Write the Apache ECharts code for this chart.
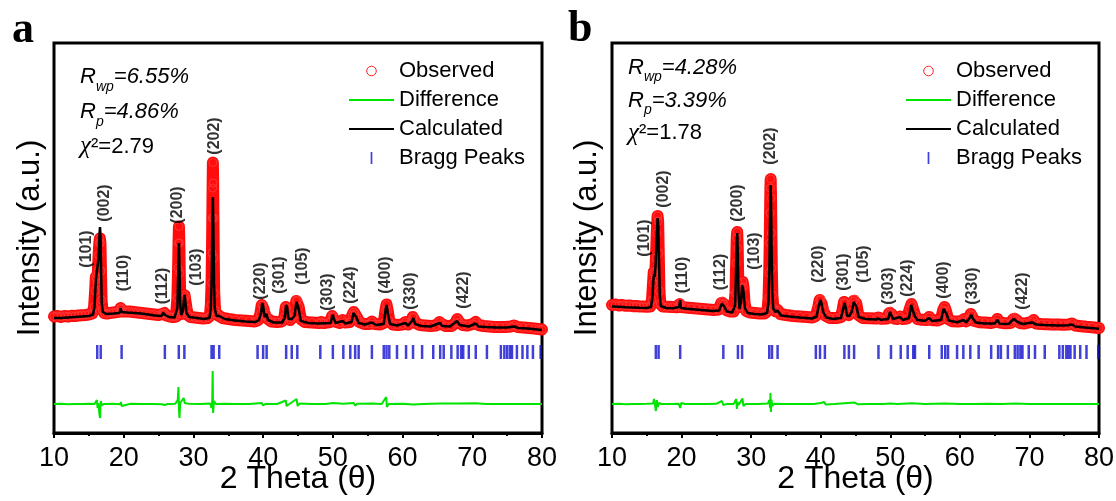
<!DOCTYPE html>
<html>
<head>
<meta charset="utf-8">
<script src="https://cdn.jsdelivr.net/npm/echarts@6/dist/echarts.min.js"></script>
<style>
html, body { margin: 0; padding: 0; background: #fff; }
#chart { width: 1116px; height: 501px; }
</style>
</head>
<body>
<div id="chart"></div>
<script>
// ---- Sample a: observed profile [2θ, intensity] ----
const obsA = [[10,1165],[10.5,1170],[11,1160],[11.5,1170],[12,1165],[12.5,1172],[13,1170],[13.5,1175],[14,1178],[14.5,1180],[15,1185],[15.5,1195],[15.75,1260],[15.9,1420],[16.0,1560],[16.1,1540],[16.2,1500],[16.3,1620],[16.4,1780],[16.5,1900],[16.58,1945],[16.66,1900],[16.74,1620],[16.82,1330],[16.95,1230],[17.2,1200],[17.6,1195],[18,1200],[18.5,1205],[19,1210],[19.4,1215],[19.55,1250],[19.65,1240],[19.8,1215],[20.2,1215],[20.8,1215],[21.4,1210],[22,1205],[22.6,1200],[23.2,1195],[23.8,1190],[24.4,1185],[25,1180],[25.5,1190],[25.7,1200],[25.85,1200],[26.1,1175],[26.6,1165],[27.1,1160],[27.5,1165],[27.7,1350],[27.8,1650],[27.86,1900],[27.92,2065],[27.98,1900],[28.04,1600],[28.12,1300],[28.25,1190],[28.45,1230],[28.6,1340],[28.72,1380],[28.85,1360],[29.0,1250],[29.2,1180],[29.6,1160],[30.2,1155],[30.8,1150],[31.4,1145],[32.0,1150],[32.35,1170],[32.5,1280],[32.6,1500],[32.66,1800],[32.71,2150],[32.75,2450],[32.79,2705],[32.83,2500],[32.87,2150],[32.92,1750],[32.98,1400],[33.1,1230],[33.3,1190],[33.7,1170],[34.2,1150],[35,1140],[36,1130],[37,1125],[38,1120],[38.8,1115],[39.3,1130],[39.6,1190],[39.8,1280],[39.92,1280],[40.05,1240],[40.25,1170],[40.5,1190],[40.7,1140],[41.2,1115],[42,1110],[42.7,1115],[43.05,1160],[43.25,1260],[43.4,1250],[43.6,1160],[43.9,1130],[44.15,1150],[44.5,1180],[44.75,1320],[44.9,1330],[45.1,1260],[45.4,1140],[46,1110],[47,1105],[48,1100],[48.3,1110],[48.7,1100],[49.6,1110],[49.9,1170],[50.05,1165],[50.3,1115],[51,1100],[51.4,1130],[51.7,1105],[52.4,1110],[52.8,1180],[53.0,1210],[53.2,1190],[53.5,1150],[53.8,1110],[54.5,1090],[55.2,1090],[55.6,1115],[56,1090],[56.8,1085],[57.3,1100],[57.55,1230],[57.7,1285],[57.85,1230],[58.1,1120],[58.6,1085],[59.3,1080],[60.0,1085],[60.4,1110],[60.8,1085],[61.2,1110],[61.45,1160],[61.6,1155],[61.9,1100],[62.5,1080],[63.2,1075],[64,1070],[64.8,1075],[65.3,1110],[65.6,1090],[66.2,1070],[67,1070],[67.6,1100],[67.85,1140],[68.1,1110],[68.6,1080],[69.3,1075],[70.1,1090],[70.5,1110],[70.9,1080],[71.6,1070],[72.4,1065],[73.2,1060],[74,1060],[74.8,1060],[75.5,1065],[76,1075],[76.5,1060],[77.3,1055],[78.1,1050],[78.9,1045],[79.5,1040],[80,1035]];

// ---- Sample a: calculated profile ----
const calcA = [[10,1150],[11,1150],[12,1155],[13,1160],[14,1165],[15,1170],[15.6,1185],[15.8,1260],[15.95,1450],[16.05,1560],[16.15,1540],[16.25,1560],[16.4,1750],[16.52,1980],[16.6,2060],[16.68,1950],[16.76,1600],[16.85,1300],[17.0,1210],[17.5,1190],[18.5,1195],[19.4,1200],[19.55,1250],[19.62,1260],[19.72,1210],[20.5,1205],[21.5,1200],[22.5,1195],[23.5,1185],[24.5,1175],[25.4,1170],[25.65,1200],[25.8,1210],[25.95,1180],[26.5,1160],[27.3,1155],[27.7,1250],[27.82,1600],[27.92,1900],[28.0,1650],[28.1,1300],[28.25,1180],[28.5,1220],[28.65,1350],[28.72,1380],[28.82,1340],[29.0,1200],[29.4,1160],[30.5,1150],[31.5,1140],[32.3,1150],[32.5,1250],[32.62,1550],[32.72,2100],[32.79,2360],[32.86,2050],[32.95,1550],[33.05,1250],[33.3,1170],[33.7,1170],[34.5,1140],[36,1125],[37.5,1115],[38.9,1110],[39.4,1130],[39.7,1200],[39.88,1300],[40.0,1270],[40.2,1160],[40.5,1190],[40.7,1130],[41.5,1105],[42.7,1105],[43.1,1150],[43.3,1280],[43.45,1250],[43.65,1140],[44.1,1140],[44.5,1170],[44.78,1310],[44.9,1330],[45.1,1240],[45.4,1120],[46.5,1100],[48,1095],[49.7,1100],[49.95,1180],[50.1,1160],[50.4,1100],[51.4,1120],[51.8,1095],[52.7,1110],[52.95,1200],[53.1,1210],[53.35,1160],[53.7,1100],[54.6,1085],[55.6,1105],[56.2,1080],[57.3,1090],[57.6,1250],[57.72,1280],[57.88,1200],[58.2,1090],[59.2,1075],[60.4,1100],[60.8,1075],[61.35,1120],[61.55,1150],[61.8,1090],[62.7,1070],[64,1065],[65.35,1100],[65.7,1070],[66.8,1065],[67.8,1120],[68.2,1080],[69.5,1065],[70.5,1095],[70.9,1065],[72,1060],[73.5,1055],[75,1055],[76,1065],[76.6,1050],[78,1045],[80,1030]];

// ---- Sample a: difference curve (offset below the pattern) ----
const diffA = [[10,290],[11,292],[12,288],[13,291],[14,289],[15,292],[15.8,290],[16.0,300],[16.15,330],[16.25,250],[16.35,300],[16.5,200],[16.6,150],[16.7,320],[16.85,280],[17.2,290],[18.5,292],[19.5,288],[19.6,310],[19.7,270],[19.85,290],[21,293],[22.5,290],[24,291],[25.5,288],[25.7,305],[25.85,280],[26.3,290],[27.4,292],[27.75,330],[27.85,460],[27.92,250],[28.0,150],[28.1,300],[28.3,290],[28.6,350],[28.75,300],[28.9,280],[29.3,292],[31,290],[32.4,295],[32.6,250],[32.7,330],[32.76,620],[32.82,200],[32.88,180],[32.95,320],[33.2,290],[34.5,292],[36,289],[38,291],[39.8,300],[40.0,275],[40.3,290],[42,290],[43.25,325],[43.35,270],[43.6,290],[44.8,340],[44.95,270],[45.2,295],[47,290],[49,291],[50,300],[50.1,280],[51.5,292],[53,300],[53.2,275],[53.5,292],[55.6,295],[57,290],[57.65,360],[57.75,260],[58,290],[60,292],[61.5,285],[63,290],[65.4,296],[67.9,295],[68.1,280],[70.5,298],[70.7,282],[72,290],[75,291],[77,289],[80,290]];

// ---- Sample a: Bragg reflection positions (2θ) ----
const braggA = [16.2,16.7,19.7,25.9,27.9,28.7,32.6,32.9,33.7,39.2,40.0,40.5,43.3,44.1,44.9,48.2,50.0,51.5,52.5,53.2,53.7,55.6,57.3,57.7,58.1,59.2,60.5,61.5,62.8,64.4,65.4,65.9,67.0,67.9,68.4,68.7,69.5,70.5,72.1,74.1,74.6,75.0,75.4,75.7,76.4,77.2,77.9,78.7,79.8];

// ---- Sample a: hkl annotations [2θ, height, text] ----
const hklA = [[14.7,1840,'(101)'],[17.3,2300,'(002)'],[20.0,1600,'(110)'],[25.6,1470,'(112)'],[27.8,2280,'(200)'],[30.4,1660,'(103)'],[33.0,2970,'(202)'],[39.7,1520,'(220)'],[42.4,1580,'(301)'],[45.7,1670,'(105)'],[49.3,1410,'(303)'],[52.5,1480,'(224)'],[57.5,1580,'(400)'],[61.1,1420,'(330)'],[68.7,1430,'(422)']];

// ---- Sample b: observed profile ----
const obsB = [[10,1280],[10.5,1285],[11,1275],[11.5,1280],[12,1272],[12.5,1275],[13,1268],[13.5,1270],[14,1265],[14.5,1265],[15,1262],[15.5,1265],[15.75,1330],[15.9,1500],[16.0,1610],[16.1,1590],[16.2,1560],[16.32,1750],[16.44,2000],[16.55,2170],[16.63,2120],[16.72,1800],[16.82,1420],[16.95,1290],[17.3,1265],[18,1262],[18.7,1260],[19.4,1258],[19.7,1290],[19.82,1300],[19.95,1260],[20.6,1255],[21.4,1250],[22.2,1245],[23,1240],[23.8,1235],[24.6,1230],[25.3,1235],[25.7,1300],[25.9,1320],[26.1,1290],[26.4,1230],[27,1215],[27.5,1215],[27.75,1400],[27.85,1700],[27.93,1950],[28.0,2010],[28.07,1850],[28.15,1500],[28.3,1260],[28.5,1300],[28.65,1450],[28.78,1510],[28.9,1460],[29.05,1300],[29.3,1220],[29.8,1205],[30.5,1200],[31.2,1195],[31.9,1195],[32.35,1220],[32.5,1350],[32.6,1600],[32.67,1900],[32.72,2200],[32.77,2450],[32.81,2540],[32.86,2350],[32.91,2000],[32.97,1650],[33.05,1380],[33.2,1250],[33.5,1220],[33.8,1230],[34.2,1190],[35,1180],[36,1170],[37,1165],[38,1160],[38.8,1155],[39.3,1170],[39.65,1260],[39.85,1330],[40.0,1340],[40.15,1290],[40.35,1220],[40.55,1240],[40.75,1170],[41.3,1150],[42.2,1150],[42.9,1160],[43.15,1230],[43.35,1310],[43.5,1300],[43.75,1190],[44.05,1180],[44.4,1210],[44.7,1320],[44.9,1340],[45.1,1300],[45.4,1180],[46,1150],[47,1148],[48,1145],[48.3,1155],[48.7,1142],[49.5,1145],[49.85,1200],[50.0,1220],[50.2,1190],[50.5,1145],[51.1,1140],[51.4,1165],[51.7,1140],[52.4,1145],[52.8,1240],[53.05,1290],[53.25,1270],[53.55,1180],[53.9,1140],[54.6,1132],[55.3,1130],[55.6,1160],[55.9,1130],[56.8,1125],[57.3,1140],[57.6,1230],[57.8,1260],[58.0,1220],[58.3,1140],[58.9,1118],[59.7,1115],[60.3,1120],[60.6,1140],[60.9,1115],[61.3,1140],[61.55,1190],[61.75,1180],[62.1,1120],[62.8,1108],[63.6,1105],[64.5,1100],[65.1,1110],[65.4,1140],[65.7,1105],[66.5,1098],[67.3,1100],[67.7,1140],[67.9,1160],[68.15,1130],[68.6,1100],[69.3,1095],[70.2,1110],[70.6,1130],[70.95,1095],[71.7,1090],[72.5,1088],[73.3,1085],[74.1,1085],[74.9,1083],[75.6,1085],[76.1,1095],[76.6,1075],[77.4,1068],[78.2,1062],[79,1058],[80,1050]];

// ---- Sample b: calculated profile ----
const calcB = [[10,1265],[11,1262],[12,1258],[13,1255],[14,1252],[15,1250],[15.6,1260],[15.8,1350],[15.95,1530],[16.05,1590],[16.15,1560],[16.28,1700],[16.42,1950],[16.55,2150],[16.65,2080],[16.75,1750],[16.87,1380],[17.0,1270],[17.8,1250],[18.8,1248],[19.65,1260],[19.8,1330],[19.9,1250],[20.8,1242],[22,1235],[23.2,1228],[24.4,1220],[25.4,1225],[25.75,1290],[25.9,1300],[26.1,1270],[26.5,1215],[27.3,1205],[27.7,1280],[27.82,1600],[27.93,1900],[28.0,2000],[28.08,1800],[28.18,1420],[28.32,1240],[28.55,1310],[28.7,1480],[28.78,1500],[28.9,1420],[29.1,1250],[29.5,1200],[30.5,1190],[31.5,1185],[32.3,1200],[32.5,1320],[32.62,1650],[32.72,2150],[32.8,2480],[32.87,2250],[32.95,1800],[33.05,1380],[33.2,1240],[33.5,1210],[33.8,1225],[34.3,1175],[35.5,1165],[37,1155],[38.8,1145],[39.4,1165],[39.75,1280],[39.95,1330],[40.1,1300],[40.35,1210],[40.55,1230],[40.8,1155],[41.8,1140],[42.9,1150],[43.2,1230],[43.4,1300],[43.55,1270],[43.8,1170],[44.1,1170],[44.45,1210],[44.75,1310],[44.92,1330],[45.15,1260],[45.45,1160],[46.5,1140],[48,1135],[48.3,1145],[48.6,1132],[49.7,1140],[49.95,1210],[50.1,1200],[50.4,1140],[51.4,1160],[51.8,1130],[52.7,1150],[53.0,1280],[53.15,1270],[53.5,1170],[53.9,1130],[55.0,1122],[55.6,1150],[56,1120],[57.3,1130],[57.65,1240],[57.85,1250],[58.1,1190],[58.4,1125],[59.6,1108],[60.55,1130],[60.9,1105],[61.4,1150],[61.65,1180],[61.9,1140],[62.3,1105],[63.5,1095],[65.0,1095],[65.4,1130],[65.75,1092],[67.0,1090],[67.75,1140],[67.95,1150],[68.3,1110],[69.0,1090],[70.4,1105],[70.65,1120],[71.0,1085],[72.2,1080],[74,1075],[75.6,1078],[76.1,1085],[76.6,1065],[78,1055],[80,1042]];

// ---- Sample b: difference curve ----
const diffB = [[10,290],[11,292],[12,288],[13,291],[14,289],[15,292],[15.9,295],[16.05,340],[16.15,300],[16.3,220],[16.45,330],[16.6,260],[16.75,300],[17.1,290],[18.5,291],[19.6,292],[19.8,250],[19.95,300],[20.5,290],[22,291],[23.5,289],[25,292],[25.8,320],[26.0,280],[26.5,290],[27.5,291],[27.85,340],[27.95,240],[28.05,310],[28.2,280],[28.4,290],[28.75,345],[28.9,270],[29.2,290],[31,291],[32.4,295],[32.6,330],[32.72,250],[32.78,400],[32.84,210],[32.92,330],[33.05,270],[33.3,292],[35,290],[37,291],[39,289],[40.0,300],[40.5,310],[40.7,285],[42,290],[43.4,298],[43.6,282],[44.9,305],[45.1,300],[45.3,288],[47,290],[49,291],[50,296],[51,289],[53.1,297],[53.3,283],[55,290],[57.8,296],[58,284],[60,291],[62,289],[64,292],[66,289],[68,294],[70,291],[72,289],[75,291],[77,290],[80,290]];

// ---- Sample b: Bragg reflection positions ----
const braggB = [16.3,16.7,19.8,26.0,28.1,28.7,32.6,33.0,33.8,39.3,39.9,40.6,43.4,44.05,44.8,48.3,50.1,51.5,52.5,53.3,53.55,55.6,57.4,57.9,58.3,59.6,60.5,61.5,62.7,64.5,65.5,65.9,66.9,67.9,68.3,68.7,69.0,69.9,70.8,72.2,74.3,74.8,75.3,75.6,75.9,76.5,77.3,78.2,79.9];

// ---- Sample b: hkl annotations ----
const hklB = [[14.7,1950,'(101)'],[17.4,2440,'(002)'],[20.2,1580,'(110)'],[25.6,1610,'(112)'],[28.1,2300,'(200)'],[30.5,1820,'(103)'],[32.8,2870,'(202)'],[39.7,1690,'(220)'],[43.3,1610,'(301)'],[46.1,1690,'(105)'],[49.7,1470,'(303)'],[52.5,1550,'(224)'],[57.7,1530,'(400)'],[61.8,1470,'(330)'],[69.0,1420,'(422)']];

// ---- axis settings ----
const xTicks = { min: 10, max: 80, interval: 10 };
const yRange = { min: 0, max: 3900 };
const braggLevel = 810;   // height of the reflection-marker row

const FONT = 'Liberation Sans, Arial, sans-serif';
const RED = '#ff0d0d', BLACK = '#000', GREEN = '#00e400', BLUE = '#1212d0';

function panelSeries(i, obs, calc, diff, bragg, hkl) {
  return [
    {
      name: 'Observed', type: 'line', xAxisIndex: i, yAxisIndex: i, data: obs,
      symbol: 'circle', symbolSize: 8, showSymbol: true, showAllSymbol: true,
      lineStyle: { color: RED, width: 12, join: 'round', cap: 'round' },
      itemStyle: { color: 'rgba(255,255,255,0)', borderColor: '#ff3535', borderWidth: 1 },
      z: 1, animation: false, silent: true
    },
    {
      name: 'Calculated', type: 'line', xAxisIndex: i, yAxisIndex: i, data: calc,
      symbol: 'none', color: BLACK, lineStyle: { color: BLACK, width: 2.5 },
      z: 3, animation: false, silent: true
    },
    {
      name: 'Difference', type: 'line', xAxisIndex: i, yAxisIndex: i, data: diff,
      symbol: 'none', color: GREEN, lineStyle: { color: GREEN, width: 2 },
      z: 2, animation: false, silent: true
    },
    {
      name: 'Bragg Peaks', type: 'scatter', xAxisIndex: i, yAxisIndex: i,
      data: bragg.map(v => [v, braggLevel]),
      symbol: 'rect', symbolSize: [2.5, 14], color: BLUE,
      z: 2, animation: false, silent: true
    },
    {
      name: 'hkl', type: 'scatter', xAxisIndex: i, yAxisIndex: i, data: hkl,
      symbolSize: 1, itemStyle: { color: 'rgba(0,0,0,0)' },
      label: {
        show: true, position: 'inside', rotate: 90,
        formatter: p => p.data[2],
        color: '#000', fontSize: 16, fontWeight: 'bold', fontFamily: FONT
      },
      z: 4, animation: false, silent: true
    }
  ];
}

function xAxisFor(i) {
  return {
    gridIndex: i, type: 'value', min: xTicks.min, max: xTicks.max, interval: xTicks.interval,
    axisLine: { show: true, onZero: false, lineStyle: { color: '#000', width: 3 } },
    axisTick: { show: true, length: 5, lineStyle: { color: '#000', width: 2 } },
    minorTick: { show: true, splitNumber: 2, length: 3, lineStyle: { color: '#000', width: 2 } },
    axisLabel: { color: '#000', fontSize: 27, fontFamily: FONT, margin: 12 },
    splitLine: { show: false },
    name: '2 Theta (\u03b8)', nameLocation: 'middle', nameGap: 30, nameMoveOverlap: false,
    nameTextStyle: { color: '#000', fontSize: 32, fontFamily: FONT }
  };
}

function yAxisFor(i, gap) {
  return {
    gridIndex: i, type: 'value', min: yRange.min, max: yRange.max,
    axisLine: { show: false }, axisTick: { show: false }, axisLabel: { show: false },
    splitLine: { show: false },
    name: 'Intensity (a.u.)', nameLocation: 'middle', nameGap: gap, nameRotate: 90, nameMoveOverlap: false,
    nameTextStyle: { color: '#000', fontSize: 31, fontFamily: FONT }
  };
}

function legendFor(left, top) {
  return {
    left: left, top: top, orient: 'vertical', padding: 0,
    itemWidth: 45, itemHeight: 12, itemGap: 7, selectedMode: false,
    textStyle: { color: '#000', fontSize: 22, fontFamily: FONT, lineHeight: 20 },
    data: [
      { name: 'Observed', lineStyle: { opacity: 0 },
        itemStyle: { color: 'rgba(255,255,255,0)', borderColor: '#ff2020', borderWidth: 1 } },
      { name: 'Difference', itemStyle: { opacity: 0 } },
      { name: 'Calculated', itemStyle: { opacity: 0 } },
      { name: 'Bragg Peaks', icon: 'path://M0,0h2v14h-2z', itemStyle: { color: BLUE } }
    ]
  };
}

const statRich = lh => ({
  i: { fontSize: 22, fontStyle: 'italic', fontWeight: 'normal', fontFamily: FONT, color: '#000', lineHeight: lh },
  s: { fontSize: 14, fontStyle: 'italic', fontWeight: 'normal', fontFamily: FONT, color: '#000', lineHeight: 14, verticalAlign: 'bottom' },
  c: { fontSize: 25, fontStyle: 'italic', fontWeight: 'normal', fontFamily: 'Liberation Serif, serif', color: '#000', lineHeight: lh },
  n: { fontSize: 22, fontWeight: 'normal', fontFamily: FONT, color: '#000', lineHeight: lh }
});

const option = {
  backgroundColor: '#fff',
  animation: false,
  grid: [
    { left: 54, top: 43, width: 488, height: 390, outerBoundsMode: 'none', containLabel: false,
      show: true, borderColor: '#000', borderWidth: 3 },
    { left: 612, top: 43, width: 487, height: 390, outerBoundsMode: 'none', containLabel: false,
      show: true, borderColor: '#000', borderWidth: 3 }
  ],
  xAxis: [xAxisFor(0), xAxisFor(1)],
  yAxis: [yAxisFor(0, 8), yAxisFor(1, 9)],
  legend: [legendFor(348, 60), legendFor(905, 60)],
  title: [
    { left: 80, top: 59, padding: 0,
      text: '{i|R}{s|wp}{i|=6.55%}\n{i|R}{s|p}{i|=4.86%}\n{c|\u03c7}{n|\u00b2=2.79}',
      textStyle: { fontWeight: 'normal', rich: statRich(35) } },
    { left: 628, top: 52, padding: 0,
      text: '{i|R}{s|wp}{i|=4.28%}\n{i|R}{s|p}{i|=3.39%}\n{c|\u03c7}{n|\u00b2=1.78}',
      textStyle: { fontWeight: 'normal', rich: statRich(32.5) } }
  ],
  graphic: [
    { type: 'text', left: 12, top: 9, style: { text: 'a', fontSize: 44, fontWeight: 'bold', fontFamily: 'Liberation Serif, serif', fill: '#000' } },
    { type: 'text', left: 568, top: 8, style: { text: 'b', fontSize: 44, fontWeight: 'bold', fontFamily: 'Liberation Serif, serif', fill: '#000' } }
  ],
  series: [
    ...panelSeries(0, obsA, calcA, diffA, braggA, hklA),
    ...panelSeries(1, obsB, calcB, diffB, braggB, hklB)
  ]
};

const chart = echarts.init(document.getElementById('chart'), null, { renderer: 'canvas' });
chart.setOption(option);
</script>
</body>
</html>
